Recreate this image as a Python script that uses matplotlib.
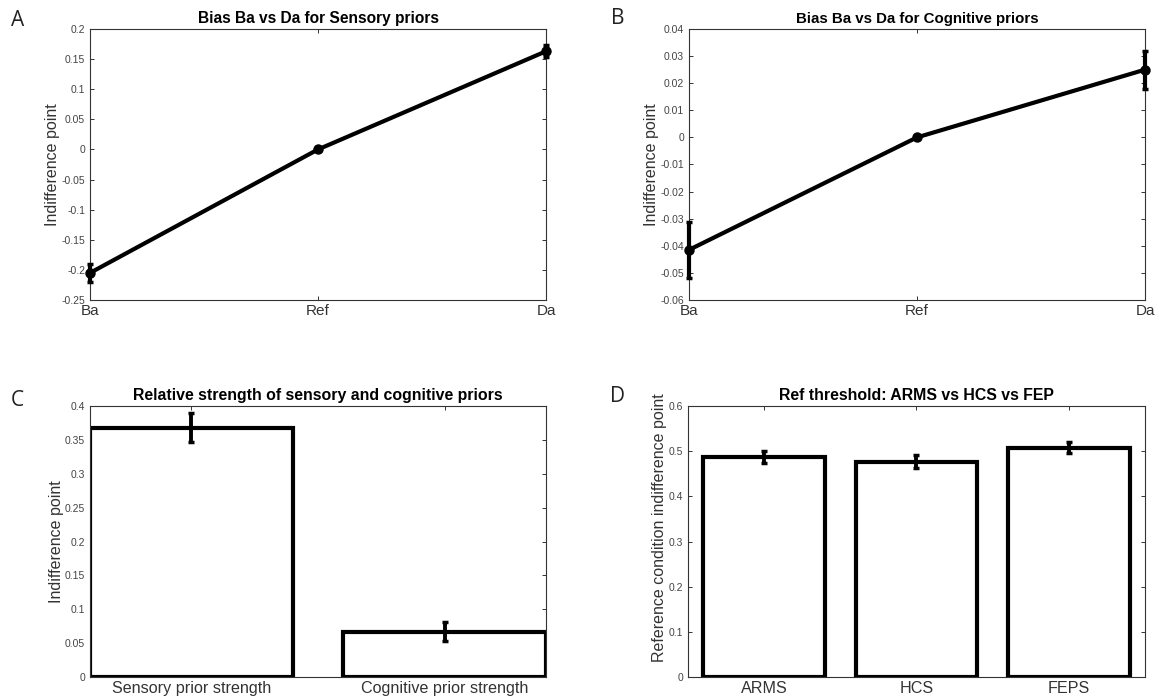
import matplotlib
matplotlib.use("Agg")
import matplotlib.pyplot as plt

# ---------------------------------------------------------------------------
# Dati
# ---------------------------------------------------------------------------
cond_labels = ["Ba", "Ref", "Da"]
sens_bias = [-0.205, 0.0, 0.163]
sens_err = [0.015, 0.0, 0.010]
cog_bias = [-0.0415, 0.0, 0.025]
cog_err = [0.0103, 0.0, 0.007]

prior_labels = ["Sensory prior strength", "Cognitive prior strength"]
prior_vals = [0.368, 0.067]
prior_err = [0.021, 0.014]

group_labels = ["ARMS", "HCS", "FEPS"]
group_vals = [0.487, 0.477, 0.508]
group_err = [0.014, 0.015, 0.012]

W, H = 1163, 697
plt.rcParams["font.family"] = ["Liberation Sans", "DejaVu Sans"]

fig = plt.figure(figsize=(W / 100, H / 100), dpi=100)


def box(l, t, r, b):
    """Rettangolo in pixel -> coordinate figura."""
    return [l / W, 1 - b / H, (r - l) / W, (b - t) / H]


def style(ax, title, ylabel, tsize, xsize, lpad, ly=0.5):
    for s in ax.spines.values():
        s.set_linewidth(0.8)
        s.set_color("#333333")
    ax.tick_params(direction="in", top=True, right=True, length=3,
                   width=0.7, color="#333333")
    ax.tick_params(axis="y", labelsize=7.5, labelcolor="#444444")
    ax.tick_params(axis="x", labelsize=xsize, labelcolor="#333333", pad=3)
    ax.set_title(title, fontsize=tsize, fontweight="bold", pad=4)
    ax.set_ylabel(ylabel, fontsize=11.5, color="#333333", labelpad=lpad, y=ly)


def fmt(v):
    return f"{v:g}"


# --- A / B: curve di bias ---
def bias_panel(rect, vals, errs, ylim, step, title, tsize, lpad):
    ax = fig.add_axes(rect)
    x = list(range(1, len(vals) + 1))
    ax.errorbar(x, vals, yerr=errs, color="black", lw=3, marker="o",
                ms=6.5, elinewidth=3, capsize=2, capthick=2.5,
                clip_on=False, zorder=3)
    ax.set_xlim(1, 3)
    ax.set_ylim(*ylim)
    n = int(round((ylim[1] - ylim[0]) / step))
    ticks = [round(ylim[0] + i * step, 4) for i in range(n + 1)]
    ax.set_yticks(ticks)
    ax.set_yticklabels([fmt(t) for t in ticks])
    ax.set_xticks(x)
    ax.set_xticklabels(cond_labels)
    style(ax, title, "Indifference point", tsize, 11, lpad)
    return ax


bias_panel(box(90, 29, 546, 300), sens_bias, sens_err, (-0.25, 0.2), 0.05,
           "Bias Ba vs Da for Sensory priors", 11.2, 1)
bias_panel(box(689, 29, 1145, 300), cog_bias, cog_err, (-0.06, 0.04), 0.01,
           "Bias Ba vs Da for Cognitive priors", 10.8, 1)


# --- C / D: barre ---
def bar_panel(rect, labels, vals, errs, xlim, ylim, yticks, title, ylabel,
              lpad, ly=0.5):
    ax = fig.add_axes(rect)
    x = list(range(1, len(vals) + 1))
    ax.bar(x, vals, width=0.8, facecolor="white", edgecolor="black",
           linewidth=3, zorder=2)
    ax.errorbar(x, vals, yerr=errs, fmt="none", ecolor="black",
                elinewidth=2.8, capsize=2, capthick=2.5, zorder=3)
    ax.set_xlim(*xlim)
    ax.set_ylim(*ylim)
    ax.set_yticks(yticks)
    ax.set_yticklabels([fmt(t) for t in yticks])
    ax.set_xticks(x)
    ax.set_xticklabels(labels)
    style(ax, title, ylabel, 11.4, 11.6, lpad, ly)
    return ax


bar_panel(box(90, 406, 546, 677), prior_labels, prior_vals, prior_err,
          (0.6, 2.4), (0, 0.4), [i * 0.05 for i in range(9)],
          "Relative strength of sensory and cognitive priors",
          "Indifference point", 1)
bar_panel(box(688, 406, 1145, 677), group_labels, group_vals, group_err,
          (0.5, 3.5), (0, 0.6), [i * 0.1 for i in range(7)],
          "Ref threshold: ARMS vs HCS vs FEP",
          "Reference condition indifference point", 1, 0.553)

# --- lettere dei pannelli ---
for lab, px, py in [("A", 18, 20), ("B", 618, 19), ("C", 17, 400), ("D", 617, 396)]:
    fig.text(px / W, 1 - py / H, lab, fontsize=15, family="Open Sans",
             va="center", ha="center", color="#222222")

fig.savefig("out.png", dpi=100)
